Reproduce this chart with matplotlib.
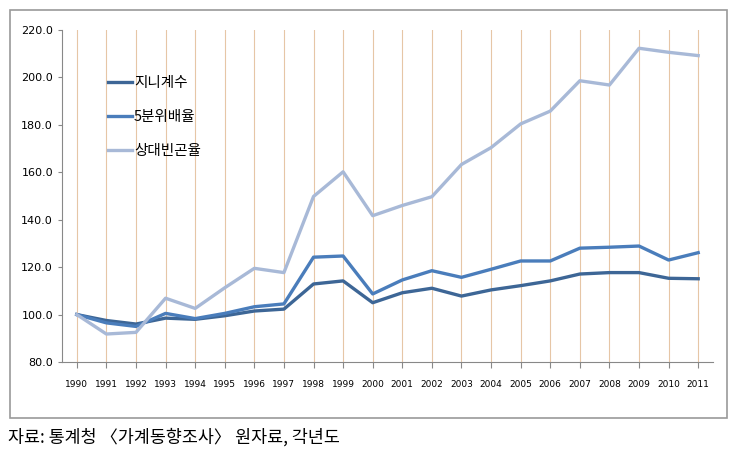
import numpy as np
import matplotlib
matplotlib.use("Agg")
import matplotlib.pyplot as plt
from matplotlib.patches import Rectangle

plt.rcParams['font.family'] = ['Noto Sans CJK KR', 'DejaVu Sans']

# ── 데이터 (1990 = 100) ──
years = [str(y) for y in range(1990, 2012)]
gini = [100.0, 97.5, 96.0, 98.5, 98.0, 99.5, 101.5, 102.3, 112.9, 114.2, 105.0,
        109.2, 111.1, 107.8, 110.4, 112.2, 114.2, 117.1, 117.7, 117.7, 115.3, 115.1]
quintile = [100.0, 96.5, 95.0, 100.5, 98.3, 100.5, 103.3, 104.5, 124.2, 124.7, 108.7,
            114.6, 118.5, 115.7, 119.1, 122.6, 122.6, 128.0, 128.4, 128.9, 123.0, 126.1]
poverty = [100.0, 91.8, 92.5, 106.9, 102.6, 111.3, 119.5, 117.7, 149.8, 160.2, 141.7,
           146.0, 149.7, 163.3, 170.4, 180.4, 185.8, 198.6, 196.8, 212.3, 210.6, 209.2]
series_names = ["지니계수", "5분위배율", "상대빈곤율"]
source_note = "자료: 통계청 〈가계동향조사〉 원자료, 각년도"

colors = ["#3d6696", "#4a7dbb", "#a8b9d7"]

fig = plt.figure(figsize=(7.38, 4.58), dpi=100)
fig.patches.append(Rectangle((10 / 738, 1 - 418 / 458), 717 / 738, 408 / 458,
                             transform=fig.transFigure, fill=False,
                             edgecolor="#9a9a9a", lw=1.2))

ax = fig.add_axes([62 / 738, 1 - 362 / 458, 651 / 738, 332 / 458])
x = np.arange(len(years))

for i in x:
    ax.axvline(i, color="#e6c6a6", lw=0.8, zorder=0)

for vals, name, c in zip([gini, quintile, poverty], series_names, colors):
    ax.plot(x, vals, color=c, lw=2.4, label=name, solid_joinstyle="round")

ax.set_xlim(-0.5, len(years) - 0.5)
ax.set_ylim(80, 220)
ax.set_yticks(np.arange(80, 221, 20))
ax.set_yticklabels([f"{v:.1f}" for v in np.arange(80, 221, 20)],
                   family="DejaVu Sans", fontsize=8)
ax.set_xticks(x)
ax.set_xticklabels(years, family="DejaVu Sans", fontsize=6.5)
ax.tick_params(axis="x", length=4, pad=9, color="#888888")
ax.tick_params(axis="y", length=3, color="#888888")
for s in ["top", "right"]:
    ax.spines[s].set_visible(False)
for s in ["left", "bottom"]:
    ax.spines[s].set_color("#888888")

leg = ax.legend(loc="upper left", bbox_to_anchor=(0.05, 0.9), frameon=False,
                fontsize=10.5, handlelength=1.7, handletextpad=0.1,
                labelspacing=1.35)

fig.text(8 / 738, 1 - 437 / 458, source_note, fontsize=12.5, va="center",
         ha="left")

fig.savefig("out.png", dpi=100)
